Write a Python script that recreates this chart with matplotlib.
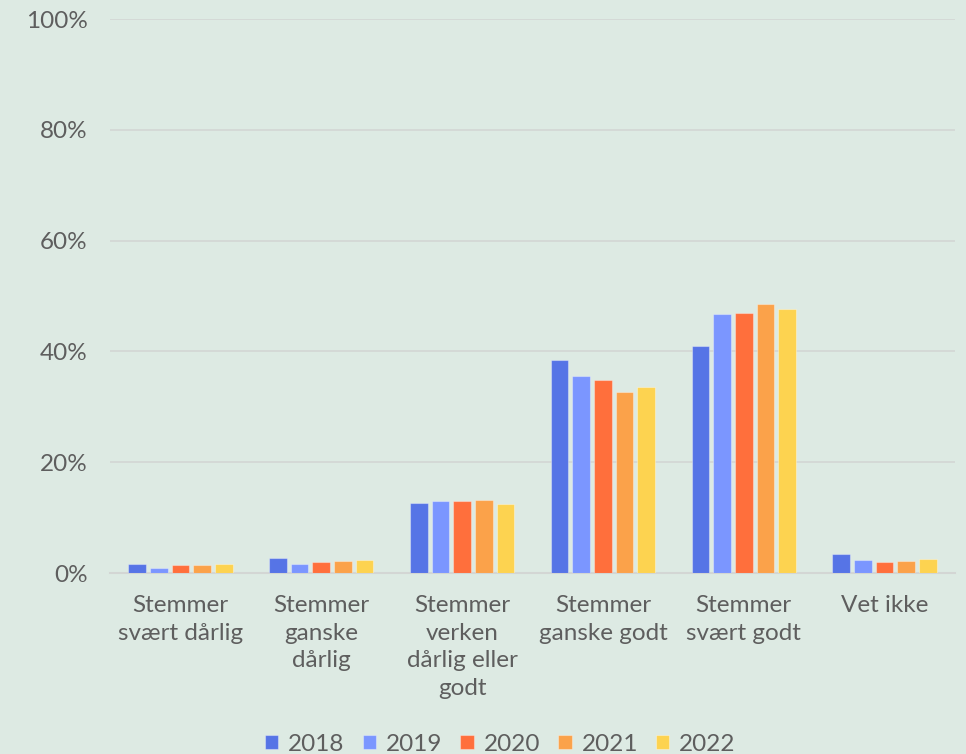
import numpy as np
import matplotlib.pyplot as plt
from matplotlib.ticker import PercentFormatter

plt.rcParams['font.family'] = ['Lato', 'DejaVu Sans']

categories = ["Stemmer\nsvært dårlig", "Stemmer\nganske\ndårlig",
              "Stemmer\nverken\ndårlig eller\ngodt", "Stemmer\nganske godt",
              "Stemmer\nsvært godt", "Vet ikke"]
years = ["2018", "2019", "2020", "2021", "2022"]
v2018 = [1.7, 2.7, 12.6, 38.4, 41.0, 3.5]
v2019 = [0.9, 1.6, 13.0, 35.5, 46.7, 2.3]
v2020 = [1.5, 2.0, 13.0, 34.8, 46.9, 2.0]
v2021 = [1.5, 2.1, 13.2, 32.7, 48.6, 2.2]
v2022 = [1.7, 2.3, 12.5, 33.5, 47.7, 2.5]
colors = ["#5674E6", "#7B96FF", "#FF6F3C", "#FBA24A", "#FDD350"]

bg = "#DDEAE3"
text_col = "#5E5E5E"
fs = 17.5

fig = plt.figure(figsize=(9.66, 7.54), dpi=100, facecolor=bg)
ax = fig.add_axes([110 / 966, 1 - 573 / 754, 845 / 966, 554 / 754], facecolor=bg)

x = np.arange(len(categories))
step = 0.154
series = [v2018, v2019, v2020, v2021, v2022]
for i, (vals, c) in enumerate(zip(series, colors)):
    ax.bar(x + (i - 2) * step, vals, width=0.125, color=c, label=years[i],
           edgecolor=(1, 1, 1, 0.35), linewidth=0.8, zorder=3)

ax.set_xlim(-0.5, len(categories) - 0.5)
ax.set_ylim(0, 100)
ax.set_yticks(range(0, 101, 20))
ax.yaxis.set_major_formatter(PercentFormatter(decimals=0))
ax.grid(axis='y', color='#D3D6D4', linewidth=1.2, zorder=0)
ax.set_axisbelow(True)
for s in ['top', 'right', 'left']:
    ax.spines[s].set_visible(False)
ax.spines['bottom'].set_color('#D3D6D4')
ax.spines['bottom'].set_linewidth(1.5)

ax.set_xticks(x)
ax.set_xticklabels(categories, linespacing=1.38)
ax.tick_params(axis='both', length=0, labelsize=fs, colors=text_col)
ax.tick_params(axis='x', pad=16)
ax.tick_params(axis='y', pad=16)

leg = fig.legend(loc='lower center', ncol=5, bbox_to_anchor=(0.518, -0.03),
                 frameon=False, fontsize=fs, handlelength=0.55, handleheight=0.55,
                 handletextpad=0.4, columnspacing=0.75)
for t in leg.get_texts():
    t.set_color(text_col)

fig.savefig("out.png", dpi=100, facecolor=bg)
